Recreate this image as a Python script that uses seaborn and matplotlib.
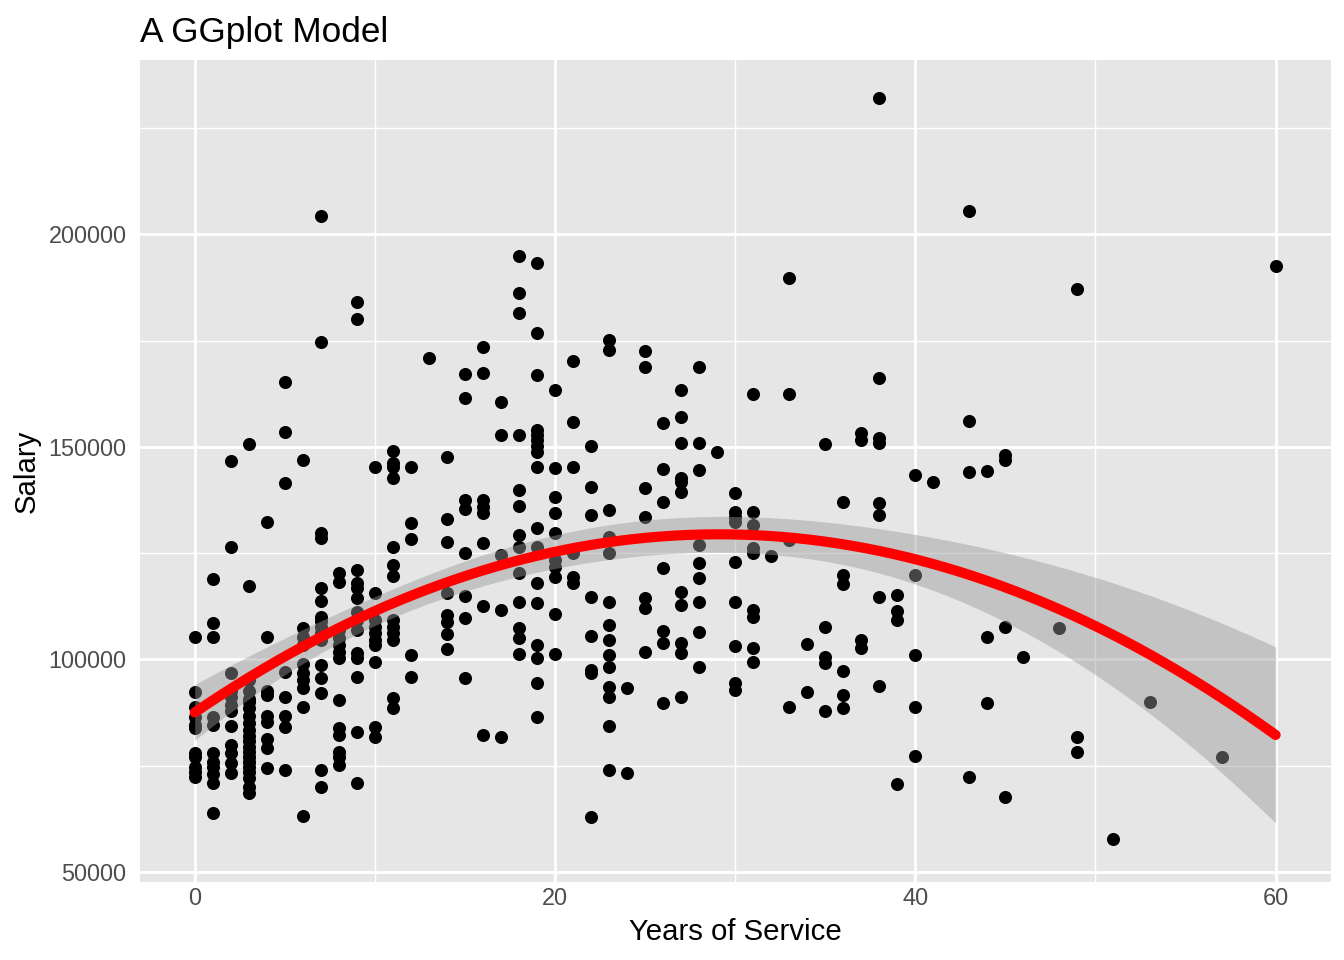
import matplotlib
matplotlib.use('Agg')
import matplotlib.pyplot as plt
import seaborn as sns
import pandas as pd
import numpy as np

# salaries in thousands, grouped by years of service
service_years = [0, 1, 2, 3, 4, 5, 6, 7, 8, 9, 10, 11, 12, 13, 14, 15, 16, 17,
                 18, 19, 20, 21, 22, 23, 24, 25, 26, 27, 28, 29, 30, 31, 32, 33,
                 34, 35, 36, 37, 38, 39, 40, 41, 43, 44, 45, 46, 48, 49, 51, 53,
                 57, 60]
salaries_k = [
    [105.2, 92.3, 88.8, 86.4, 84.6, 83.9, 78.0, 77.0, 74.7, 73.5, 72.3],
    [118.9, 108.6, 105.2, 86.5, 84.6, 78.0, 75.9, 74.7, 73.1, 71.0, 63.9],
    [146.6, 126.4, 96.8, 92.7, 91.1, 89.3, 87.9, 84.3, 79.8, 78.0, 75.6, 73.3],
    [150.6, 117.2, 95.1, 92.7, 90.8, 89.9, 88.6, 86.7, 85.0, 83.4, 82.0, 80.8,
     79.4, 78.2, 77.0, 75.9, 74.7, 73.5, 72.1, 69.9, 68.6],
    [132.3, 105.2, 92.7, 91.6, 86.7, 85.3, 81.3, 79.2, 74.5],
    [165.2, 153.4, 141.5, 97.0, 91.1, 86.7, 84.1, 74.0],
    [146.9, 107.4, 105.2, 103.4, 99.0, 96.8, 95.1, 93.3, 88.8, 63.2],
    [204.2, 174.6, 129.7, 128.5, 116.8, 113.7, 110.0, 109.0, 107.6, 106.2,
     104.5, 98.7, 95.6, 92.1, 74.0, 70.0],
    [120.3, 118.2, 107.0, 105.0, 103.4, 101.8, 100.4, 90.4, 83.8, 82.2, 78.2,
     77.0, 75.2],
    [184.0, 180.2, 121.0, 118.0, 116.8, 114.4, 111.1, 109.2, 106.9, 101.5,
     100.3, 95.8, 82.9, 70.9],
    [145.2, 115.6, 109.2, 107.6, 106.2, 104.5, 103.4, 99.4, 84.1, 81.7],
    [149.0, 146.2, 145.2, 142.6, 126.4, 122.2, 119.6, 109.2, 107.6, 106.2,
     104.5, 90.9, 88.6],
    [145.2, 132.1, 128.3, 101.0, 95.8],
    [170.8],
    [147.6, 133.0, 127.6, 115.6, 110.4, 108.7, 106.0, 102.4],
    [167.1, 161.4, 137.5, 135.3, 125.0, 114.9, 109.7, 95.6],
    [173.4, 167.3, 137.5, 135.8, 134.4, 127.4, 112.5, 82.2],
    [160.5, 152.7, 124.5, 111.6, 81.7],
    [195.0, 186.1, 181.4, 152.7, 139.8, 136.0, 129.2, 126.4, 120.3, 113.5,
     107.4, 105.0, 101.3],
    [193.2, 176.7, 166.9, 153.9, 152.7, 151.6, 150.2, 148.7, 145.2, 130.9,
     126.4, 118.0, 113.2, 103.4, 100.3, 94.4, 86.4],
    [163.5, 145.0, 138.2, 134.4, 129.7, 123.4, 121.7, 119.4, 110.7, 101.3],
    [170.1, 155.8, 145.2, 125.0, 119.4, 118.0],
    [150.2, 140.5, 133.9, 114.7, 105.6, 97.5, 96.8, 62.9],
    [175.1, 172.7, 135.1, 128.8, 125.0, 113.5, 108.1, 104.5, 101.0, 98.2,
     93.5, 91.1, 84.3, 74.0],
    [93.3, 73.3],
    [172.5, 168.7, 140.3, 133.5, 114.4, 112.1, 101.7],
    [155.6, 144.7, 137.0, 121.5, 106.7, 103.8, 89.7],
    [163.3, 157.0, 150.9, 142.6, 141.7, 139.3, 115.8, 112.8, 103.8, 101.5, 91.1],
    [168.7, 150.9, 144.5, 126.9, 122.6, 119.1, 113.5, 106.4, 98.2],
    [148.7],
    [139.1, 134.6, 133.4, 132.3, 122.9, 113.5, 103.1, 94.4, 92.8],
    [162.4, 134.6, 131.6, 126.2, 125.0, 111.6, 110.0, 102.7, 99.4],
    [124.3],
    [189.7, 162.4, 128.1, 88.8],
    [103.6, 92.3],
    [150.6, 107.6, 100.6, 99.1, 87.9],
    [137.0, 119.8, 117.7, 97.3, 91.6, 88.6],
    [153.2, 151.6, 104.5, 102.7],
    [232.0, 166.1, 152.0, 150.9, 136.8, 133.9, 114.7, 93.7],
    [115.1, 111.4, 109.2, 70.7],
    [143.3, 119.8, 101.0, 88.8, 77.3],
    [141.7],
    [205.6, 156.0, 144.0, 72.3],
    [144.3, 105.2, 89.7],
    [148.0, 146.9, 107.6, 67.6],
    [100.6],
    [107.4],
    [187.1, 81.7, 78.2],
    [57.8],
    [90.0],
    [77.0],
    [192.5],
]

x_ticks = [0, 20, 40, 60]
x_minor = [10, 30, 50]
y_ticks = [50000, 100000, 150000, 200000]
y_minor = [75000, 125000, 175000, 225000]

rows = [(yr, s * 1000) for yr, group in zip(service_years, salaries_k) for s in group]
df = pd.DataFrame(rows, columns=['yrs_service', 'salary'])

# quadratic fit with analytic 95% confidence band (like geom_smooth lm)
x = df['yrs_service'].to_numpy(float)
y = df['salary'].to_numpy(float)
X = np.column_stack([np.ones_like(x), x, x ** 2])
beta, *_ = np.linalg.lstsq(X, y, rcond=None)
resid = y - X @ beta
sigma2 = resid @ resid / (len(x) - 3)
cov = sigma2 * np.linalg.inv(X.T @ X)
grid = np.linspace(x.min(), x.max(), 80)
G = np.column_stack([np.ones_like(grid), grid, grid ** 2])
fit = G @ beta
se = np.sqrt(np.einsum('ij,jk,ik->i', G, cov, G))
t95 = 1.967

sns.set_theme(style='darkgrid')
plt.rcParams['font.family'] = ['Liberation Sans', 'DejaVu Sans']

fig = plt.figure(figsize=(7, 5), dpi=192)
ax = fig.add_axes([0.104, 0.081, 0.886, 0.856])
ax.set_facecolor('#E6E6E6')

sns.scatterplot(data=df, x='yrs_service', y='salary', color='black', s=24,
                linewidth=0, ax=ax, zorder=2)
ax.fill_between(grid, fit - t95 * se, fit + t95 * se, color='#999999',
                alpha=0.45, lw=0, zorder=3)
sns.lineplot(x=grid, y=fit, color='#FF0000', lw=3.8, ax=ax, zorder=4)

ax.set_xlim(-3.05, 63.05)
ax.set_ylim(47600, 240900)
ax.set_xticks(x_ticks)
ax.set_xticks(x_minor, minor=True)
ax.set_yticks(y_ticks)
ax.set_yticklabels([str(v) for v in y_ticks])
ax.set_yticks(y_minor, minor=True)
ax.grid(which='major', color='white', lw=1.07)
ax.grid(which='minor', color='white', lw=0.53)
ax.set_axisbelow(True)
for sp in ax.spines.values():
    sp.set_visible(False)
ax.tick_params(which='major', length=2.75, width=0.53, color='#333333',
               labelsize=8.8, labelcolor='#4D4D4D')
ax.tick_params(axis='x', pad=-0.9)
ax.tick_params(axis='y', pad=2.2)
ax.tick_params(which='minor', length=0)

ax.set_xlabel('Years of Service', fontsize=11, color='black', labelpad=3)
ax.set_ylabel('Salary', fontsize=11, color='black', labelpad=3)
ax.set_title('A GGplot Model', loc='left', fontsize=13.2, color='black', pad=7)

fig.savefig('out.png', dpi=192)
